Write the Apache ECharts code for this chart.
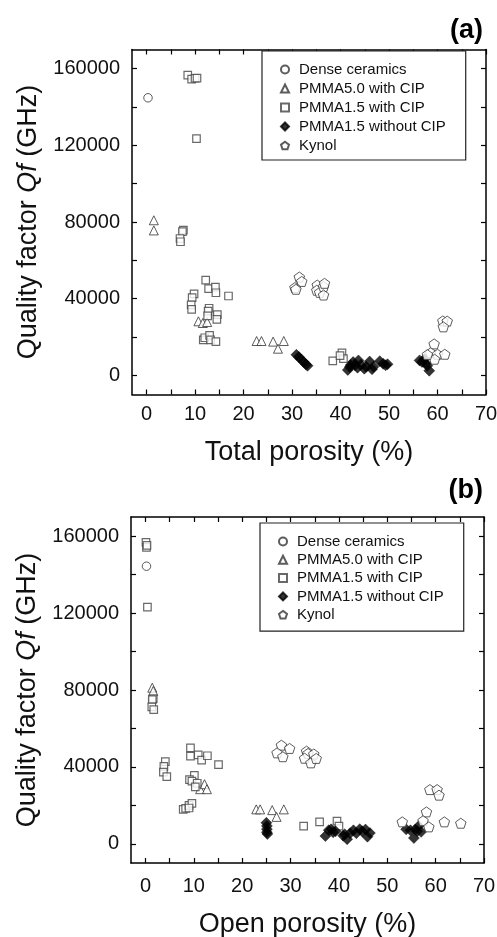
<!DOCTYPE html>
<html>
<head>
<meta charset="utf-8">
<script src="https://cdn.jsdelivr.net/npm/echarts@6/dist/echarts.min.js"></script>
<style>
html,body{margin:0;padding:0;background:#fff;}
#chart{width:497px;height:937px;}
</style>
</head>
<body>
<div id="chart"></div>
<script>
// ---------- DATA ----------
const seriesNames = ['Dense ceramics', 'PMMA5.0 with CIP', 'PMMA1.5 with CIP', 'PMMA1.5 without CIP', 'Kynol'];

const xTickValues = [0, 5, 10, 15, 20, 25, 30, 35, 40, 45, 50, 55, 60, 65, 70];
const xLabelValues = [0, 10, 20, 30, 40, 50, 60, 70];
const yTickValues = [0, 20000, 40000, 60000, 80000, 100000, 120000, 140000, 160000];
const yLabelValues = [0, 40000, 80000, 120000, 160000];

// Panel (a): total porosity (%) vs Qf (GHz)
const denseTotal = [[0.3, 144800]];
const pmma50Total = [[1.5, 80900], [1.5, 75600], [10.7, 28200], [11.6, 27300], [12.5, 27800],
  [22.7, 17900], [23.7, 17900], [26.1, 17600], [27.1, 13900], [28.3, 17900]];
const pmma15Total = [[8.5, 156600], [9.3, 154500], [10.0, 155000], [10.4, 155100], [10.3, 123500],
  [7.6, 75800], [7.4, 75000], [6.9, 71400], [7.0, 69700],
  [12.2, 49700], [12.8, 45200], [14.2, 46000], [14.3, 43100], [16.9, 41400],
  [9.8, 42500], [9.4, 40500], [9.2, 36800], [9.3, 34400], [12.9, 35000], [12.7, 33500], [12.6, 31000],
  [14.6, 31700], [14.5, 29200], [11.7, 18500], [12.0, 19600], [13.0, 20800], [13.2, 18500], [14.3, 17600],
  [38.4, 7500], [40.3, 11700], [40.6, 8700], [39.9, 10300]];
const pmma15noTotal = [[30.9, 10700], [31.4, 9600], [31.9, 8200], [32.4, 7000], [32.9, 5600], [33.2, 5000],
  [41.5, 2800], [41.9, 4300], [42.1, 5400], [42.6, 6900], [43.0, 5200], [43.7, 7800], [43.5, 4000],
  [44.2, 5500], [44.9, 3500], [45.3, 4500], [46.0, 7200], [46.5, 3200], [46.8, 4500], [48.1, 7400],
  [48.8, 6000], [49.3, 5300], [49.7, 5800],
  [56.3, 7800], [56.8, 7000], [57.3, 8500], [57.6, 6200], [57.9, 5000], [58.3, 2400]];
const kynolTotal = [[31.5, 51300], [32.0, 49000], [30.6, 45800], [30.8, 44900], [35.2, 47100], [35.1, 44400],
  [35.7, 43300], [36.5, 46300], [36.7, 48000], [36.5, 41900],
  [61.1, 28400], [62.0, 28300], [61.2, 25300], [59.3, 16400], [58.6, 11800], [60.0, 11000],
  [61.5, 11000], [59.4, 8400], [57.9, 10800]];

// Panel (b): open porosity (%) vs Qf (GHz)
const denseOpen = [[0.2, 144400]];
const pmma50Open = [[1.4, 81200], [1.6, 79500], [11.3, 28400], [12.2, 31000], [12.7, 28400],
  [22.9, 17900], [23.7, 17900], [26.2, 17500], [27.1, 14000], [28.6, 17900]];
const pmma15Open = [[0.1, 156800], [0.2, 154200], [0.3, 155200], [0.4, 123100],
  [1.6, 75500], [1.4, 75000], [1.3, 71200], [1.7, 69800],
  [4.1, 42700], [3.8, 40300], [3.7, 37300], [4.4, 34900],
  [9.3, 49900], [9.3, 45600], [10.9, 46200], [11.6, 43500], [12.8, 45800], [15.1, 41200],
  [10.1, 35600], [9.1, 33400], [9.6, 32600], [10.7, 31500], [10.3, 29600],
  [7.8, 17900], [8.3, 18400], [9.0, 20000], [9.6, 21000], [9.0, 18600],
  [32.7, 9200], [36.0, 11400], [39.6, 11800], [40.0, 9200]];
const pmma15noOpen = [[25.0, 10900], [25.1, 9300], [25.1, 7600], [25.1, 6000], [25.2, 5100],
  [37.2, 4000], [37.9, 7100], [38.4, 7500], [38.8, 6000], [39.3, 6500], [40.9, 4200], [41.7, 2400],
  [41.2, 5000], [42.3, 5500], [43.0, 7000], [43.6, 5500], [44.3, 7600], [44.8, 6500], [45.5, 7400],
  [45.9, 3700], [46.4, 5600],
  [53.9, 7500], [54.8, 7000], [55.8, 7400], [55.5, 3000], [56.5, 9200], [57.0, 6200], [56.2, 6500]];
const kynolOpen = [[28.1, 51300], [29.8, 49600], [27.2, 47300], [28.4, 45300], [33.3, 48200], [33.6, 47000],
  [32.9, 44500], [34.8, 46700], [34.2, 42100], [35.3, 44400],
  [58.8, 28200], [60.3, 28200], [60.7, 25300], [58.1, 16600], [57.4, 12000], [58.6, 8800],
  [53.1, 11400], [61.8, 11400], [65.2, 10700]];

// ---------- CHART ----------
const FONT = '"Liberation Sans", Arial, Helvetica, sans-serif';
const PENTAGON = 'path://M0,-1L0.951,-0.309L0.588,0.809L-0.588,0.809L-0.951,-0.309Z';

const markerStyles = [
  {symbol: 'circle', symbolSize: 8.5, itemStyle: {color: '#fff', borderColor: '#333', borderWidth: 1}},
  {symbol: 'triangle', symbolSize: 9, itemStyle: {color: '#fff', borderColor: '#333', borderWidth: 1}},
  {symbol: 'rect', symbolSize: 7.5, itemStyle: {color: '#fff', borderColor: '#444', borderWidth: 1.2}},
  {symbol: 'diamond', symbolSize: 11, itemStyle: {color: '#000', borderColor: '#000', borderWidth: 0.5}},
  {symbol: PENTAGON, symbolSize: 10.5, symbolKeepAspect: true, itemStyle: {color: '#fff', borderColor: '#333', borderWidth: 1}}
];

function plainNumber(v) { return String(v); }

function xAxisPair(gi, name, nameGap, labelMargin) {
  const base = {
    gridIndex: gi, type: 'value', min: -3, max: 70,
    axisLine: {show: true, onZero: false, lineStyle: {color: '#000', width: 1.5}},
    axisTick: {show: true, inside: true, length: 5, customValues: xTickValues, lineStyle: {color: '#000', width: 1.2}},
    splitLine: {show: false}
  };
  return [
    Object.assign({}, base, {
      position: 'bottom',
      axisLabel: {customValues: xLabelValues, formatter: plainNumber, fontSize: 20, color: '#111', margin: labelMargin, fontFamily: FONT},
      name: name, nameLocation: 'middle', nameGap: nameGap,
      nameTextStyle: {fontSize: 27, color: '#111', fontFamily: FONT}
    }),
    Object.assign({}, base, {position: 'top', axisLabel: {show: false}})
  ];
}

function yAxisPair(gi, nameGap) {
  const base = {
    gridIndex: gi, type: 'value', min: -10000, max: 170000,
    axisLine: {show: true, onZero: false, lineStyle: {color: '#000', width: 1.5}},
    axisTick: {show: true, inside: true, length: 5, customValues: yTickValues, lineStyle: {color: '#000', width: 1.2}},
    splitLine: {show: false}
  };
  return [
    Object.assign({}, base, {
      position: 'left',
      axisLabel: {customValues: yLabelValues, formatter: plainNumber, fontSize: 20, color: '#111', margin: 12, fontFamily: FONT},
      name: 'Quality factor {i|Qf} (GHz)', nameLocation: 'middle', nameGap: nameGap,
      nameTextStyle: {fontSize: 27, color: '#111', fontFamily: FONT,
        rich: {i: {fontSize: 27, fontStyle: 'italic', color: '#111', fontFamily: FONT}}}
    }),
    Object.assign({}, base, {position: 'right', axisLabel: {show: false}})
  ];
}

const panelData = [
  [denseTotal, pmma50Total, pmma15Total, pmma15noTotal, kynolTotal],
  [denseOpen, pmma50Open, pmma15Open, pmma15noOpen, kynolOpen]
];

const series = [];
panelData.forEach(function (sets, p) {
  sets.forEach(function (d, k) {
    series.push(Object.assign({
      type: 'scatter', name: seriesNames[k],
      xAxisIndex: p * 2, yAxisIndex: p * 2, data: d, z: 2 + k
    }, JSON.parse(JSON.stringify(markerStyles[k]))));
  });
});

function legendAt(left, top, padding, gap) {
  return {
    orient: 'vertical', left: left, top: top, data: seriesNames,
    padding: padding, itemGap: gap, itemWidth: 8, itemHeight: 8,
    borderColor: '#222', borderWidth: 1.2, backgroundColor: '#fff',
    textStyle: {fontSize: 15, color: '#111', fontFamily: FONT, lineHeight: 15, padding: [0, 0, 0, 5]},
    selectedMode: false
  };
}

const option = {
  animation: false,
  backgroundColor: '#fff',
  grid: [
    {left: 132, top: 49.5, width: 354, height: 345, show: false, containLabel: false, outerBoundsMode: 'none'},
    {left: 131, top: 517, width: 353, height: 346, show: false, containLabel: false, outerBoundsMode: 'none'}
  ],
  xAxis: xAxisPair(0, 'Total porosity (%)', 45, 10).concat(xAxisPair(1, 'Open porosity (%)', 48, 13)),
  yAxis: yAxisPair(0, 85).concat(yAxisPair(1, 89)),
  legend: [
    legendAt(262, 51, [11, 20, 7, 18], 4),
    legendAt(260, 523, [11, 20, 9, 18], 3.3)
  ],
  graphic: [
    {type: 'text', right: 14, top: 17, style: {text: '(a)', font: 'bold 27px ' + FONT, fill: '#000'}},
    {type: 'text', right: 14, top: 477, style: {text: '(b)', font: 'bold 27px ' + FONT, fill: '#000'}}
  ],
  series: series
};

const chart = echarts.init(document.getElementById('chart'), null, {renderer: 'canvas'});
chart.setOption(option);
</script>
</body>
</html>
